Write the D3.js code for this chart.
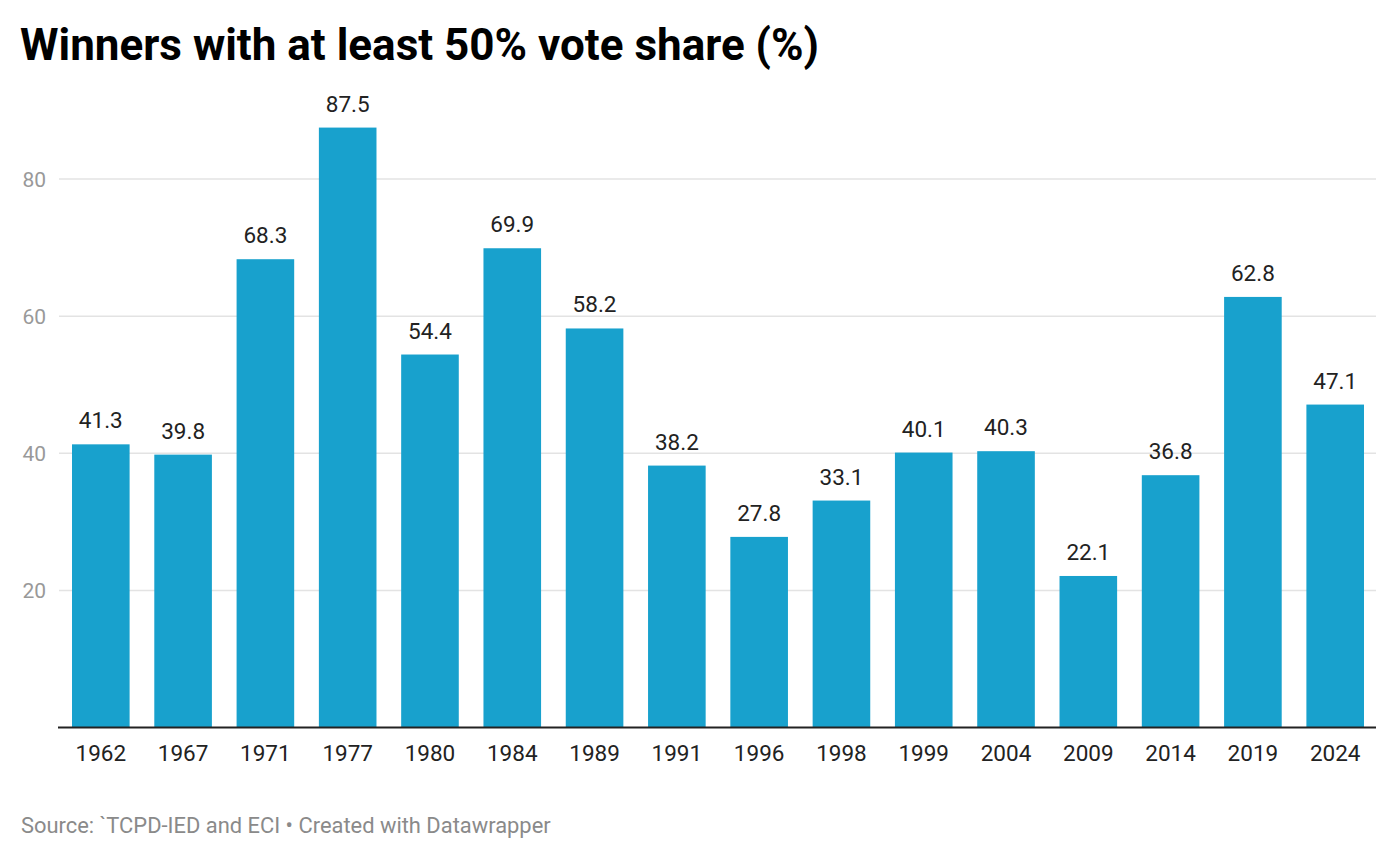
<!DOCTYPE html>
<html>
<head>
<meta charset="utf-8">
<script src="https://cdn.jsdelivr.net/npm/d3@7"></script>
<style>
  body { margin: 0; background: #fff; }
  svg { font-family: Roboto, sans-serif; display: block; }
  .title { font-weight: 700; font-size: 44px; fill: #000; }
  .grid line { stroke: #e3e3e3; stroke-width: 1.5; }
  .ylabel { font-size: 21px; fill: #999; }
  .xlabel { font-size: 22.5px; fill: #222; }
  .value { font-size: 22.5px; fill: #222; }
  .bar { fill: #18a1cd; }
  .baseline { stroke: #222; stroke-width: 2; }
  .source { font-size: 21.9px; fill: #8a8a8a; }
</style>
</head>
<body>
<svg width="1396" height="858"></svg>
<script>
const years = ["1962","1967","1971","1977","1980","1984","1989","1991","1996","1998","1999","2004","2009","2014","2019","2024"]
const shares = [41.3, 39.8, 68.3, 87.5, 54.4, 69.9, 58.2, 38.2, 27.8, 33.1, 40.1, 40.3, 22.1, 36.8, 62.8, 47.1]
const yTicks = [20, 40, 60, 80]

const data = years.map((y,i) => {
  return {year: y, value: shares[i]}
})

const svg = d3.select("svg")

const x = d3.scaleBand()
  .domain(years)
  .range([72, 1364])
  .paddingInner(0.3)
  .paddingOuter(0)

const y = d3.scaleLinear()
  .domain([0, 80])
  .range([727.5, 179])

svg.append("text")
  .attr("class", "title")
  .attr("x", 20)
  .attr("y", 60)
  .text("Winners with at least 50% vote share (%)")

const grid = svg.append("g")
  .attr("class", "grid")

grid.selectAll("line")
  .data(yTicks)
  .enter().append("line")
  .attr("x1", 59)
  .attr("x2", 1376)
  .attr("y1", d => y(d))
  .attr("y2", d => y(d))

svg.selectAll("text.ylabel")
  .data(yTicks)
  .enter().append("text")
  .attr("class", "ylabel")
  .attr("x", 46)
  .attr("y", d => y(d))
  .attr("dy", "0.36em")
  .style("text-anchor", "end")
  .text(d => d)

const groups = svg.selectAll("g.bar-group")
  .data(data)
  .enter().append("g")
  .attr("class", "bar-group")

groups.append("rect")
  .attr("class", "bar")
  .attr("x", d => x(d.year))
  .attr("width", x.bandwidth())
  .attr("y", d => y(d.value))
  .attr("height", d => y(0) - y(d.value))

groups.append("text")
  .attr("class", "value")
  .attr("x", d => x(d.year) + x.bandwidth() / 2)
  .attr("y", d => y(d.value) - 16)
  .style("text-anchor", "middle")
  .text(d => d.value.toFixed(1))

groups.append("text")
  .attr("class", "xlabel")
  .attr("x", d => x(d.year) + x.bandwidth() / 2)
  .attr("y", 760.5)
  .style("text-anchor", "middle")
  .text(d => d.year)

svg.append("line")
  .attr("class", "baseline")
  .attr("x1", 58)
  .attr("x2", 1376)
  .attr("y1", y(0))
  .attr("y2", y(0))

svg.append("text")
  .attr("class", "source")
  .attr("x", 21)
  .attr("y", 833)
  .text("Source: `TCPD-IED and ECI \u2022 Created with Datawrapper")
</script>
</body>
</html>
